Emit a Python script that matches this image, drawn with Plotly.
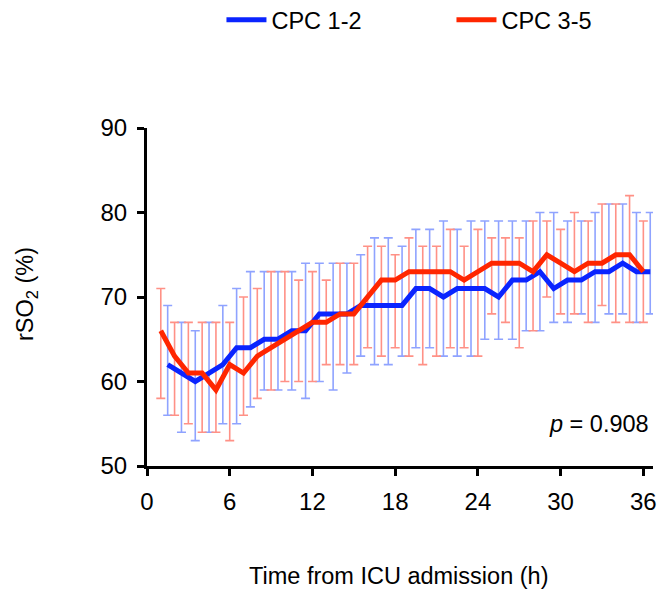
import plotly.graph_objects as go

# ---- data ----
red_hours = list(range(1, 37))
red_mean = [66, 63, 61, 61, 59, 62, 61, 63, 64, 65, 66, 67, 67, 68, 68, 70, 72, 72,
            73, 73, 73, 73, 72, 73, 74, 74, 74, 73, 75, 74, 73, 74, 74, 75, 75, 73]
red_upper = [71, 67, 67, 67, 67, 67, 70, 71, 73, 73, 72, 73, 72, 74, 74, 76, 76, 75,
             77, 76, 76, 78, 76, 78, 77, 77, 77, 79, 79, 78, 80, 79, 81, 81, 82, 79]
red_lower = [58, 56, 55, 54, 54, 53, 56, 58, 59, 60, 60, 60, 62, 62, 62, 64, 63, 64,
             63, 62, 63, 64, 64, 63, 68, 67, 64, 66, 70, 68, 68, 67, 69, 67, 67, 67]

blue_hours = [h + 0.5 for h in range(1, 37)]
blue_mean = [62, 61, 60, 61, 62, 64, 64, 65, 65, 66, 66, 68, 68, 68, 69, 69, 69, 69,
             71, 71, 70, 71, 71, 71, 70, 72, 72, 73, 71, 72, 72, 73, 73, 74, 73, 73]
blue_upper = [69, 67, 66, 67, 69, 71, 73, 73, 73, 73, 74, 74, 74, 74, 75, 77, 77, 76,
              78, 78, 79, 78, 79, 79, 79, 79, 79, 80, 80, 79, 79, 80, 81, 81, 80, 80]
blue_lower = [56, 54, 53, 54, 55, 55, 57, 59, 59, 59, 58, 60, 59, 61, 63, 62, 62, 63,
              64, 64, 63, 63, 63, 65, 65, 65, 66, 66, 67, 67, 68, 67, 68, 68, 67, 68]

x_ticks = [0, 6, 12, 18, 24, 30, 36]
y_ticks = [50, 60, 70, 80, 90]
series_names = ["CPC 1-2", "CPC 3-5"]
p_text = "<i>p</i> = 0.908"

BLUE = "#0a24ff"
RED = "#ff2600"
BLUE_BAR = "#8fa3ff"
RED_BAR = "#ff9186"
FONT = "Liberation Sans, Arial, sans-serif"
FS = 23.5

fig = go.Figure()

def bar_trace(x, mean, up, lo, color):
    return go.Scatter(
        x=x, y=mean, mode="markers",
        marker=dict(size=1, color="rgba(0,0,0,0)"),
        error_y=dict(type="data", symmetric=False,
                     array=[u - m for u, m in zip(up, mean)],
                     arrayminus=[m - l for m, l in zip(mean, lo)],
                     color=color, thickness=1.6, width=4.5),
        showlegend=False, hoverinfo="skip")

fig.add_trace(bar_trace(blue_hours, blue_mean, blue_upper, blue_lower, BLUE_BAR))
fig.add_trace(bar_trace(red_hours, red_mean, red_upper, red_lower, RED_BAR))
fig.add_trace(go.Scatter(x=blue_hours, y=blue_mean, mode="lines", name=series_names[0],
                         line=dict(color=BLUE, width=5), legend="legend"))
fig.add_trace(go.Scatter(x=red_hours, y=red_mean, mode="lines", name=series_names[1],
                         line=dict(color=RED, width=5), legend="legend2"))

axis_common = dict(showline=True, linecolor="black", linewidth=3,
                   ticks="outside", ticklen=7, tickwidth=3, tickcolor="black",
                   showgrid=False, zeroline=False, ticklabelstandoff=5,
                   tickfont=dict(size=24))

legend_common = dict(orientation="h", xanchor="left", xref="container",
                     yref="container", y=1 - 20 / 589, yanchor="middle",
                     font=dict(size=FS), itemwidth=40, bgcolor="rgba(0,0,0,0)")

fig.update_layout(
    width=665, height=589,
    margin=dict(l=147, r=8, t=128, b=123),
    paper_bgcolor="white", plot_bgcolor="white",
    font=dict(family=FONT, size=FS, color="black"),
    legend=dict(x=(147 + 0.146 * 510) / 665, **legend_common),
    legend2=dict(x=(147 + 0.597 * 510) / 665, **legend_common),
    xaxis=dict(range=[0, 36.7], tickvals=x_ticks, ticktext=[str(v) for v in x_ticks],
               **axis_common),
    yaxis=dict(range=[50, 90], tickvals=y_ticks, ticktext=[str(v) for v in y_ticks],
               **axis_common),
    annotations=[
        dict(text="rSO<sub>2</sub> (%)", xref="paper", yref="paper", x=0, y=0.5,
             xshift=-121, yshift=3, textangle=-90, showarrow=False, font=dict(size=FS),
             xanchor="center", yanchor="middle"),
        dict(text="Time from ICU admission (h)", xref="paper", yref="paper", x=0.5, y=0,
             xshift=-2, yshift=-110, showarrow=False, font=dict(size=FS),
             xanchor="center", yanchor="middle"),
        dict(text=p_text, xref="paper", yref="paper", x=1, y=0, xshift=-2, yshift=42,
             showarrow=False, font=dict(size=FS), xanchor="right", yanchor="middle"),
    ],
)

fig.write_html("out.html")
